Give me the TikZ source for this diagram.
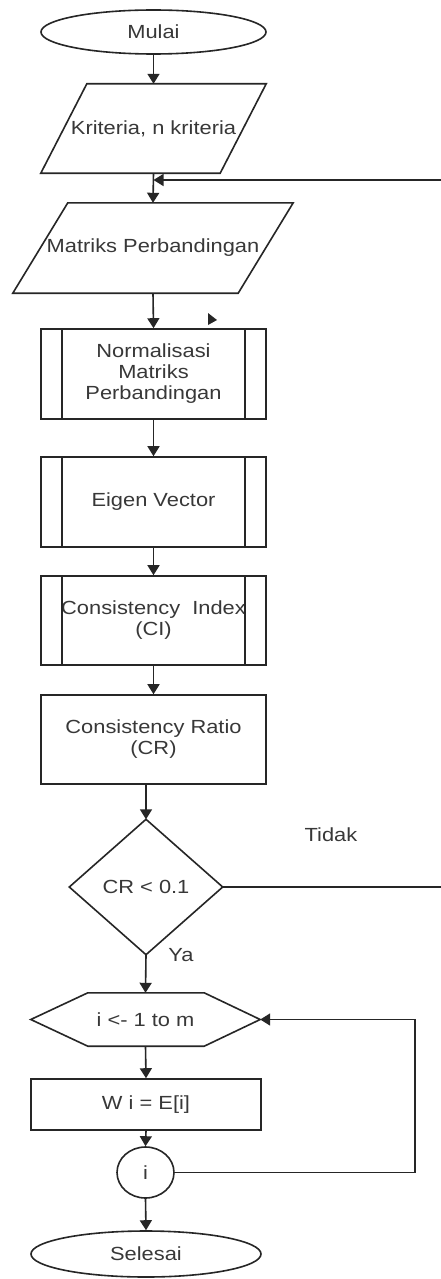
\documentclass[tikz,border=0pt]{standalone}
\usepackage{fontspec}
\setmainfont[FakeStretch=1.15]{Liberation Sans}
\usetikzlibrary{shapes.geometric,arrows.meta,calc}
\begin{document}
\begin{tikzpicture}[x=1pt,y=-1pt,
  line/.style={draw=black!85, line width=1.6pt},
  flow/.style={line, -{Triangle[width=12pt,length=10pt]}},
  label/.style={font=\fontsize{19}{21}\selectfont, text=black!78, align=center, inner sep=0pt},
  boxed/.style={label, line, rectangle},
  oval/.style={label, line, ellipse},
  proc/.style={boxed, minimum width=225pt, minimum height=90pt}]
\useasboundingbox (0,0) rectangle (441,1279);
\clip (0,0) rectangle (441,1279);
\fill[white] (0,0) rectangle (441,1279);

% terminals, inputs and steps
\node[oval, minimum width=225pt, minimum height=44pt] (start) at (153.5,32) {Mulai};

\node[label, minimum width=225pt, minimum height=89pt] (crit) at (153.5,128.5) {Kriteria, n kriteria};
\draw[line] ([xshift=46pt]crit.north west) -- (crit.north east)
  -- ([xshift=-46pt]crit.south east) -- (crit.south west) -- cycle;

\node[label, minimum width=280pt, minimum height=90pt] (mat) at (153,248) {Matriks Perbandingan};
\draw[line] ([xshift=55pt]mat.north west) -- (mat.north east)
  -- ([xshift=-55pt]mat.south east) -- (mat.south west) -- cycle;

\node[proc] (norm) at (153.5,374) {Normalisasi\\Matriks\\Perbandingan};
\node[proc] (eig) at (153.5,502) {Eigen Vector};
\node[proc, minimum height=89pt] (ci) at (153.5,620.5) {Consistency\ \ Index\\(CI)};
\foreach \n in {norm,eig,ci}{
  \draw[line] ([xshift=22pt]\n.north west) -- ([xshift=22pt]\n.south west);
  \draw[line] ([xshift=-22pt]\n.north east) -- ([xshift=-22pt]\n.south east);
}
\node[boxed, minimum width=225pt, minimum height=89pt] (cr) at (153.5,739.5) {Consistency Ratio\\(CR)};

% decision
\node[label, minimum width=153pt, minimum height=135pt] (dec) at (146,887) {CR < 0.1};
\draw[line] (dec.north) -- (dec.east) -- (dec.south) -- (dec.west) -- cycle;
\node[label] (tidak) at (331,835) {Tidak};
\node[label] (ya) at (181,955) {Ya};

% loop
\node[label, minimum width=229pt, minimum height=53pt] (loop) at (145.5,1019.5) {i <- 1 to m};
\draw[line] ([xshift=57pt]loop.north west) -- ([xshift=-56pt]loop.north east) -- (loop.east)
  -- ([xshift=-56pt]loop.south east) -- ([xshift=57pt]loop.south west) -- (loop.west) -- cycle;
\node[boxed, minimum width=230pt, minimum height=51pt] (wi) at (146,1104.5) {W i = E[i]};
\node[oval, minimum width=57pt, minimum height=51pt] (cnt) at (145.5,1172.5) {i};
\node[oval, minimum width=230pt, minimum height=46pt] (stop) at (146,1254) {Selesai};

% connectors
\coordinate (join) at (153.5,180);
\coordinate (far) at (470,0);
\draw[flow] (start) -- (crit);
\draw[flow] (crit.south) -- (mat.north);
\draw[flow] (mat.south) -- (norm.north);
\draw[flow] (norm) -- (eig);
\draw[flow] (eig) -- (ci);
\draw[flow] (ci) -- (cr);
\draw[flow] (cr.south -| dec.north) -- (dec.north);
\draw[flow] (dec.east) -- (dec.east -| far) -- (far |- join) -- (join);
\draw[flow] (dec.south) -- (loop.north);
\draw[flow] (loop.south) -- (wi.north);
\draw[flow] (wi.south) -- (cnt.north);
\draw[flow] (cnt.east) -- ++(240,0) |- (loop.east);
\draw[flow] (cnt.south) -- (stop.north);

% loose arrow tip beside the Normalisasi box
\fill[black!85] (208,313) -- (217,320) -- (208,325) -- cycle;
\end{tikzpicture}
\end{document}
